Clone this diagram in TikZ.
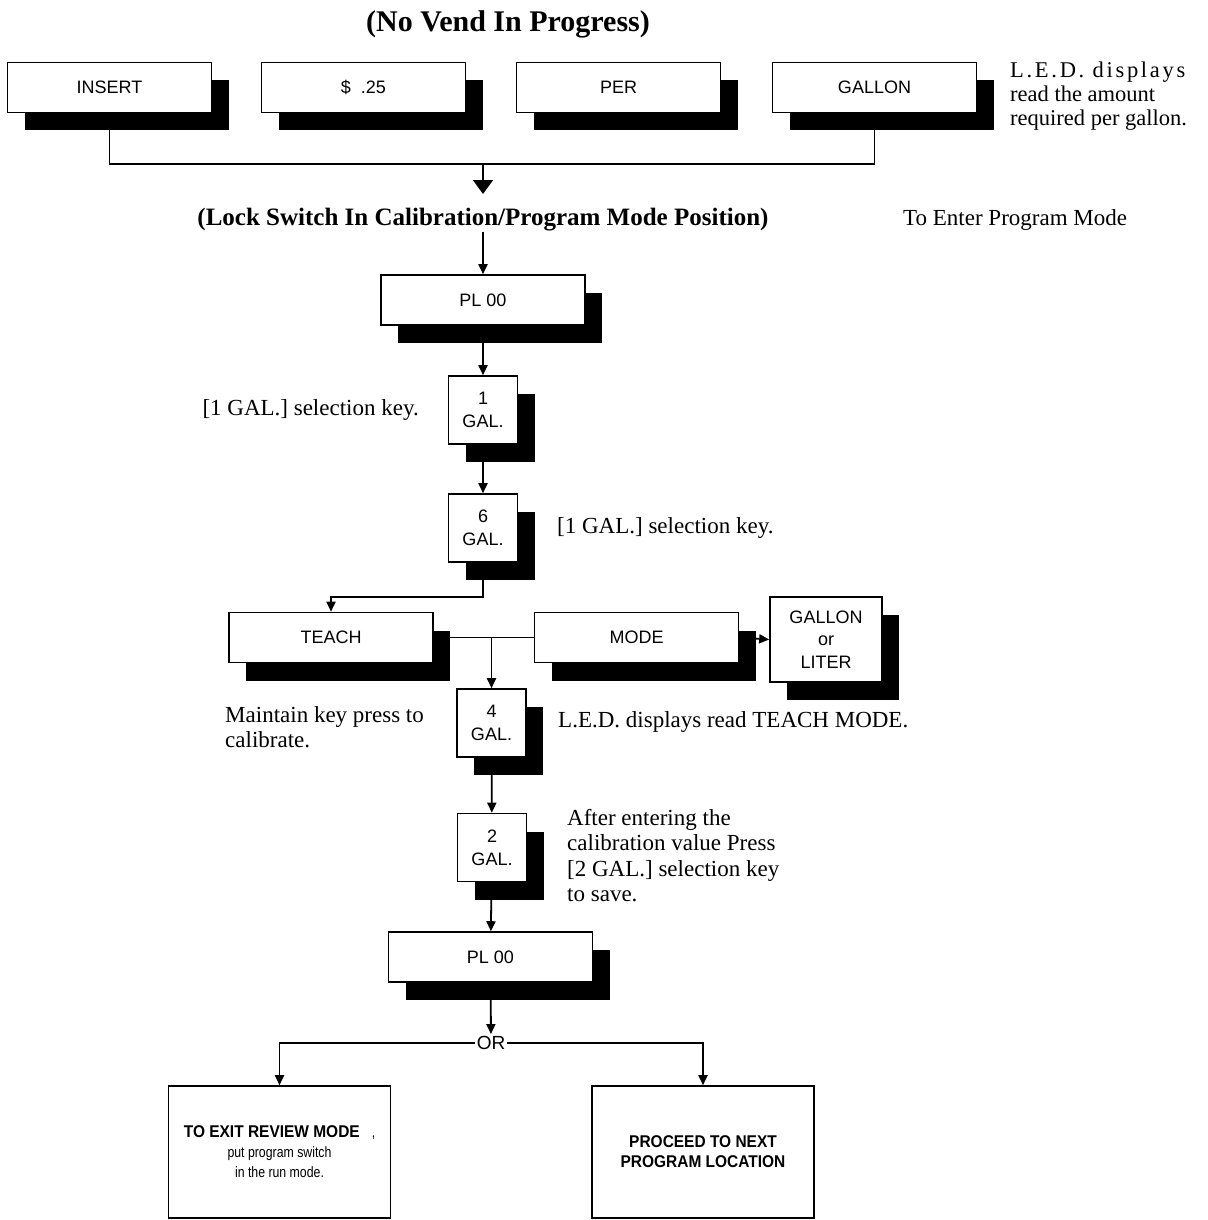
\documentclass[tikz,border=0pt]{standalone}
\usepackage{fontspec}
\setmainfont{Liberation Serif}
\setsansfont{Liberation Sans}
\usepackage{tikz}
\usetikzlibrary{arrows.meta,shadows}
\newcommand\keyfont{\sffamily\fontsize{18}{23}\selectfont}
\newcommand\notefont{\rmfamily\fontsize{23}{25.5}\selectfont}
\newcommand\exitfont{\sffamily\fontsize{15}{20}\selectfont\addfontfeature{FakeStretch=0.82}}
\newcommand\heavyfont{\sffamily\bfseries\fontsize{17}{20}\selectfont\addfontfeature{FakeStretch=0.91}}
\tikzset{
  keyshadow/.style={drop shadow={shadow xshift=17pt, shadow yshift=-18pt, fill=black, opacity=1}},
  bar/.style={draw, line width=1.6pt, fill=white, minimum width=204pt, minimum height=50pt, inner sep=0pt, font=\keyfont, keyshadow},
  key/.style={bar, minimum width=69pt, minimum height=68pt, align=center},
  endbox/.style={draw, line width=1.6pt, minimum width=222pt, minimum height=132pt, align=center, font=\exitfont},
  note/.style={font=\notefont, align=left, inner sep=0pt},
  head/.style={font=\bfseries\fontsize{25}{30}\selectfont, inner sep=0pt},
  link/.style={line width=1.8pt},
  arr/.style={link, -{Triangle[length=10pt,width=9pt]}},
  bigarr/.style={link, -{Triangle[length=14pt,width=20pt]}},
}

\begin{document}
\begin{tikzpicture}[x=1pt,y=-1pt]
  \useasboundingbox (0,0) rectangle (1207,1220);

  \node[head,font=\bfseries\fontsize{30}{34}\selectfont] (title) at (508,24) {(No Vend In Progress)};

  \node[bar] (ins) at (109.5,87.5) {INSERT};
  \node[bar] (cash) at (363.5,87.5) {\$\ \ .25};
  \node[bar] (per) at (618.5,87.5) {PER};
  \node[bar] (gal) at (874.5,87.5) {GALLON};
  \node[note,anchor=west,font=\rmfamily\fontsize{22.5}{24}\selectfont] (ledtop) at (1010,96)
    {{\addfontfeature{LetterSpace=12}L.E.D. displays}\\read the amount\\required per gallon.};

  \coordinate (topjoin) at (483,164);
  \coordinate (bigtip) at (483,194);
  \draw[link] (ins.south) |- (topjoin) -| (gal.south);
  \draw[bigarr] (topjoin) -- (bigtip);

  \node[head] (lock) at (483,220) {(Lock Switch In Calibration/Program Mode Position)};
  \node[note,anchor=west] (enter) at (903,220) {To Enter Program Mode};

  \node[bar] (pl1) at (483,300) {PL 00};
  \node[key] (g1) at (483,410) {1\\GAL.};
  \node[key] (g6) at (483,528) {6\\GAL.};
  \node[note,anchor=east] (sel1) at (419,410) {[1 GAL.] selection key.};
  \node[note,anchor=west] (sel6) at (557,528) {[1 GAL.] selection key.};

  \draw[arr] (lock.south) -- (pl1.north);
  \draw[arr] (pl1) -- (g1);
  \draw[arr] (g1) -- (g6);

  \node[bar] (teach) at (331,637.5) {TEACH};
  \node[bar] (mode) at (636.5,637.5) {MODE};
  \node[key,minimum width=112pt,minimum height=85pt,font=\sffamily\fontsize{18}{22.5}\selectfont] (unit) at (826,639.5) {GALLON\\or\\LITER};
  \node[key] (g4) at (491.5,723) {4\\GAL.};
  \node[key] (g2) at (492,847.5) {2\\GAL.};
  \node[note,anchor=west] (hold) at (225,727) {Maintain key press to\\calibrate.};
  \node[note,anchor=west] (ledteach) at (558,722) {L.E.D. displays read TEACH MODE.};
  \node[note,anchor=west] (save) at (567,855.5) {After entering the\\calibration value Press\\{}[2 GAL.] selection key\\to save.};

  \coordinate (split) at (483,597);
  \coordinate (fork) at (491.5,637.5);
  \draw[arr] (g6.south) -- (split) -| (teach.north);
  \draw[link] (teach.east) -- (mode.west);
  \draw[arr] (fork) -- (g4.north);
  \draw[arr] (mode.east) -- (unit.west);
  \draw[arr] (g4) -- (g2);

  \node[bar] (pl2) at (490.5,957) {PL 00};
  \node[font=\sffamily\fontsize{19}{23}\selectfont,inner sep=2pt] (or) at (491,1043) {OR};
  \node[endbox] (exit) at (279.5,1152)
    {{\heavyfont TO EXIT REVIEW MODE}\hspace{12pt},\\put program switch\\in the run mode.};
  \node[endbox,font=\heavyfont] (next) at (703,1152)
    {PROCEED TO NEXT\\PROGRAM LOCATION};

  \draw[arr] (g2) -- (pl2);
  \draw[arr] (pl2) -- (or);
  \draw[arr] (or.west) -| (exit.north);
  \draw[arr] (or.east) -| (next.north);
\end{tikzpicture}
\end{document}
